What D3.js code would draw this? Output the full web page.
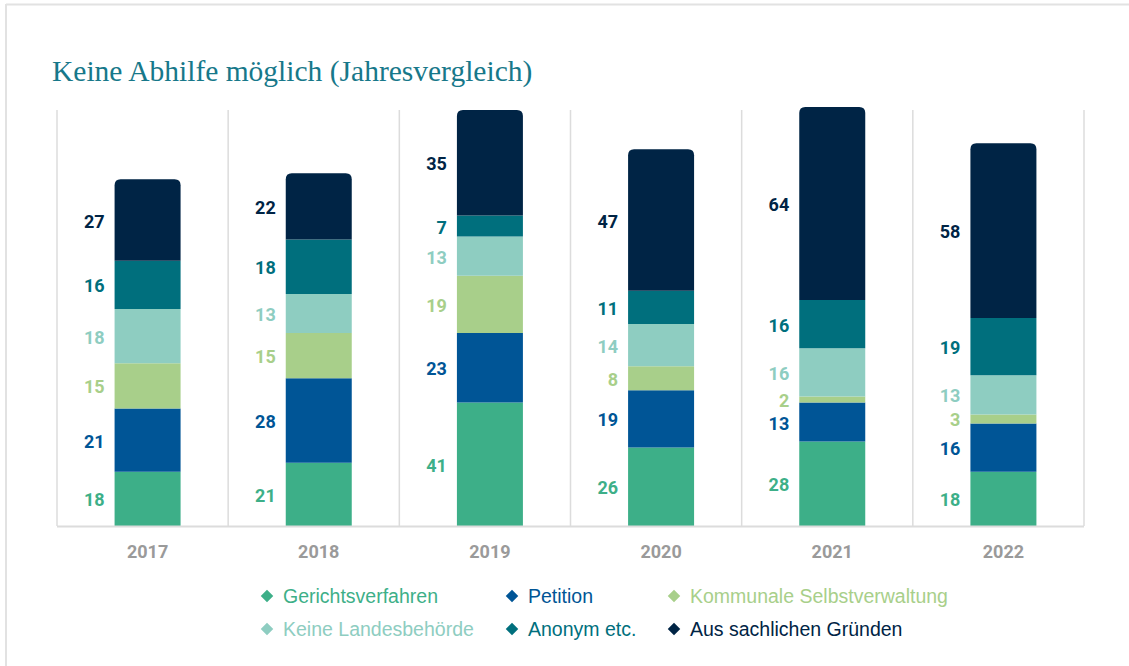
<!DOCTYPE html>
<html>
<head>
<meta charset="utf-8">
<script src="https://cdn.jsdelivr.net/npm/d3@7"></script>
<style>
  body { margin: 0; background: #fff; }
  .chart-title { font-family: "Liberation Serif", serif; font-size: 29.5px; fill: #17788a; }
  .value-label { font-family: Roboto, sans-serif; font-weight: 700; font-size: 18px; }
  .year-label { font-family: Roboto, sans-serif; font-weight: 700; font-size: 18px; fill: #9a9a9a; }
  .legend-text { font-family: "Liberation Sans", Arial, sans-serif; font-size: 19.5px; }
</style>
</head>
<body>
<div id="chart"></div>
<script>
// data
const years = ["2017", "2018", "2019", "2020", "2021", "2022"];
const seriesNames = [
  "Gerichtsverfahren",
  "Petition",
  "Kommunale Selbstverwaltung",
  "Keine Landesbehörde",
  "Anonym etc.",
  "Aus sachlichen Gründen"
];
const gerichtsverfahren = [18, 21, 41, 26, 28, 18];
const petition = [21, 28, 23, 19, 13, 16];
const kommunale = [15, 15, 19, 8, 2, 3];
const keineLandesbehoerde = [18, 13, 13, 14, 16, 13];
const anonym = [16, 18, 7, 11, 16, 19];
const sachlich = [27, 22, 35, 47, 64, 58];
const seriesColors = ["#3daf88", "#005596", "#a8cf8a", "#8ecdc1", "#006f7d", "#002445"];

const seriesValues = [gerichtsverfahren, petition, kommunale, keineLandesbehoerde, anonym, sachlich];

const width = 1129, height = 666;
const plot = { left: 57, right: 1084, top: 110, bottom: 526 };

const svg = d3.select("#chart").append("svg")
  .attr("width", width)
  .attr("height", height);

// outer frame (top + left edge only)
svg.append("line").attr("x1", 6).attr("x2", width).attr("y1", 4.5).attr("y2", 4.5)
  .attr("stroke", "#e2e2e2").attr("stroke-width", 2);
svg.append("line").attr("x1", 6).attr("x2", 6).attr("y1", 4).attr("y2", height)
  .attr("stroke", "#e2e2e2").attr("stroke-width", 2);

svg.append("text")
  .attr("class", "chart-title")
  .attr("x", 52)
  .attr("y", 81)
  .text("Keine Abhilfe möglich (Jahresvergleich)");

// table for the stack
const table = years.map((y, i) => {
  const row = { year: y };
  seriesNames.forEach((s, j) => { row[s] = seriesValues[j][i]; });
  return row;
});
const stacked = d3.stack().keys(seriesNames)(table);

const x = d3.scaleBand().domain(years).range([plot.left, plot.right]).padding(0);
const y = d3.scaleLinear().domain([0, 138]).range([plot.bottom, plot.top]);
const barW = 66;
const barX = d => x(d) + (x.bandwidth() - barW) / 2 + 5;

// vertical separators
const seps = d3.range(years.length + 1).map(i => plot.left + i * x.bandwidth());
svg.append("g").selectAll("line")
  .data(seps)
  .join("line")
  .attr("x1", d => d).attr("x2", d => d)
  .attr("y1", plot.top).attr("y2", plot.bottom)
  .attr("stroke", "#dcdcdc").attr("stroke-width", 1.5);

const r = 6;
const lastKey = seriesNames[seriesNames.length - 1];

const layers = svg.append("g").selectAll("g")
  .data(stacked)
  .join("g")
  .attr("fill", (d, i) => seriesColors[i]);

layers.selectAll("path")
  .data(d => d.map(p => ({ key: d.key, year: p.data.year, y0: p[0], y1: p[1] })))
  .join("path")
  .attr("d", d => {
    const x0 = barX(d.year), x1 = x0 + barW;
    const top = y(d.y1), bot = y(d.y0);
    if (d.key !== lastKey) return `M${x0},${bot}V${top}H${x1}V${bot}Z`;
    // top segment gets rounded corners
    return `M${x0},${bot}V${top + r}Q${x0},${top} ${x0 + r},${top}H${x1 - r}Q${x1},${top} ${x1},${top + r}V${bot}Z`;
  });

// value labels left of each segment
layers.selectAll("text")
  .data(d => d.map(p => ({ key: d.key, year: p.data.year, y0: p[0], y1: p[1], v: p[1] - p[0] })))
  .join("text")
  .attr("class", "value-label")
  .attr("x", d => barX(d.year) - 10)
  .attr("y", d => (y(d.y0) + y(d.y1)) / 2 + 1)
  .attr("text-anchor", "end")
  .attr("dominant-baseline", "central")
  .text(d => d.v);

// baseline
svg.append("line")
  .attr("x1", plot.left).attr("x2", plot.right)
  .attr("y1", plot.bottom + 0.5).attr("y2", plot.bottom + 0.5)
  .attr("stroke", "#dcdcdc").attr("stroke-width", 2);

svg.append("g").selectAll("text")
  .data(years)
  .join("text")
  .attr("class", "year-label")
  .attr("x", d => barX(d) + barW / 2)
  .attr("y", 551)
  .attr("text-anchor", "middle")
  .attr("dominant-baseline", "central")
  .text(d => d);

// legend, two rows of three
const legendCols = [267, 512, 674];
const legendRows = [596, 629];
const legend = svg.append("g").selectAll("g")
  .data(seriesNames)
  .join("g")
  .attr("transform", (d, i) => `translate(${legendCols[i % 3]},${legendRows[Math.floor(i / 3)]})`);

legend.append("path")
  .attr("d", d3.symbol(d3.symbolDiamond2, 100))
  .attr("fill", (d, i) => seriesColors[i]);

legend.append("text")
  .attr("class", "legend-text")
  .attr("x", 16)
  .attr("dominant-baseline", "central")
  .attr("fill", (d, i) => seriesColors[i])
  .text(d => d);
</script>
</body>
</html>
